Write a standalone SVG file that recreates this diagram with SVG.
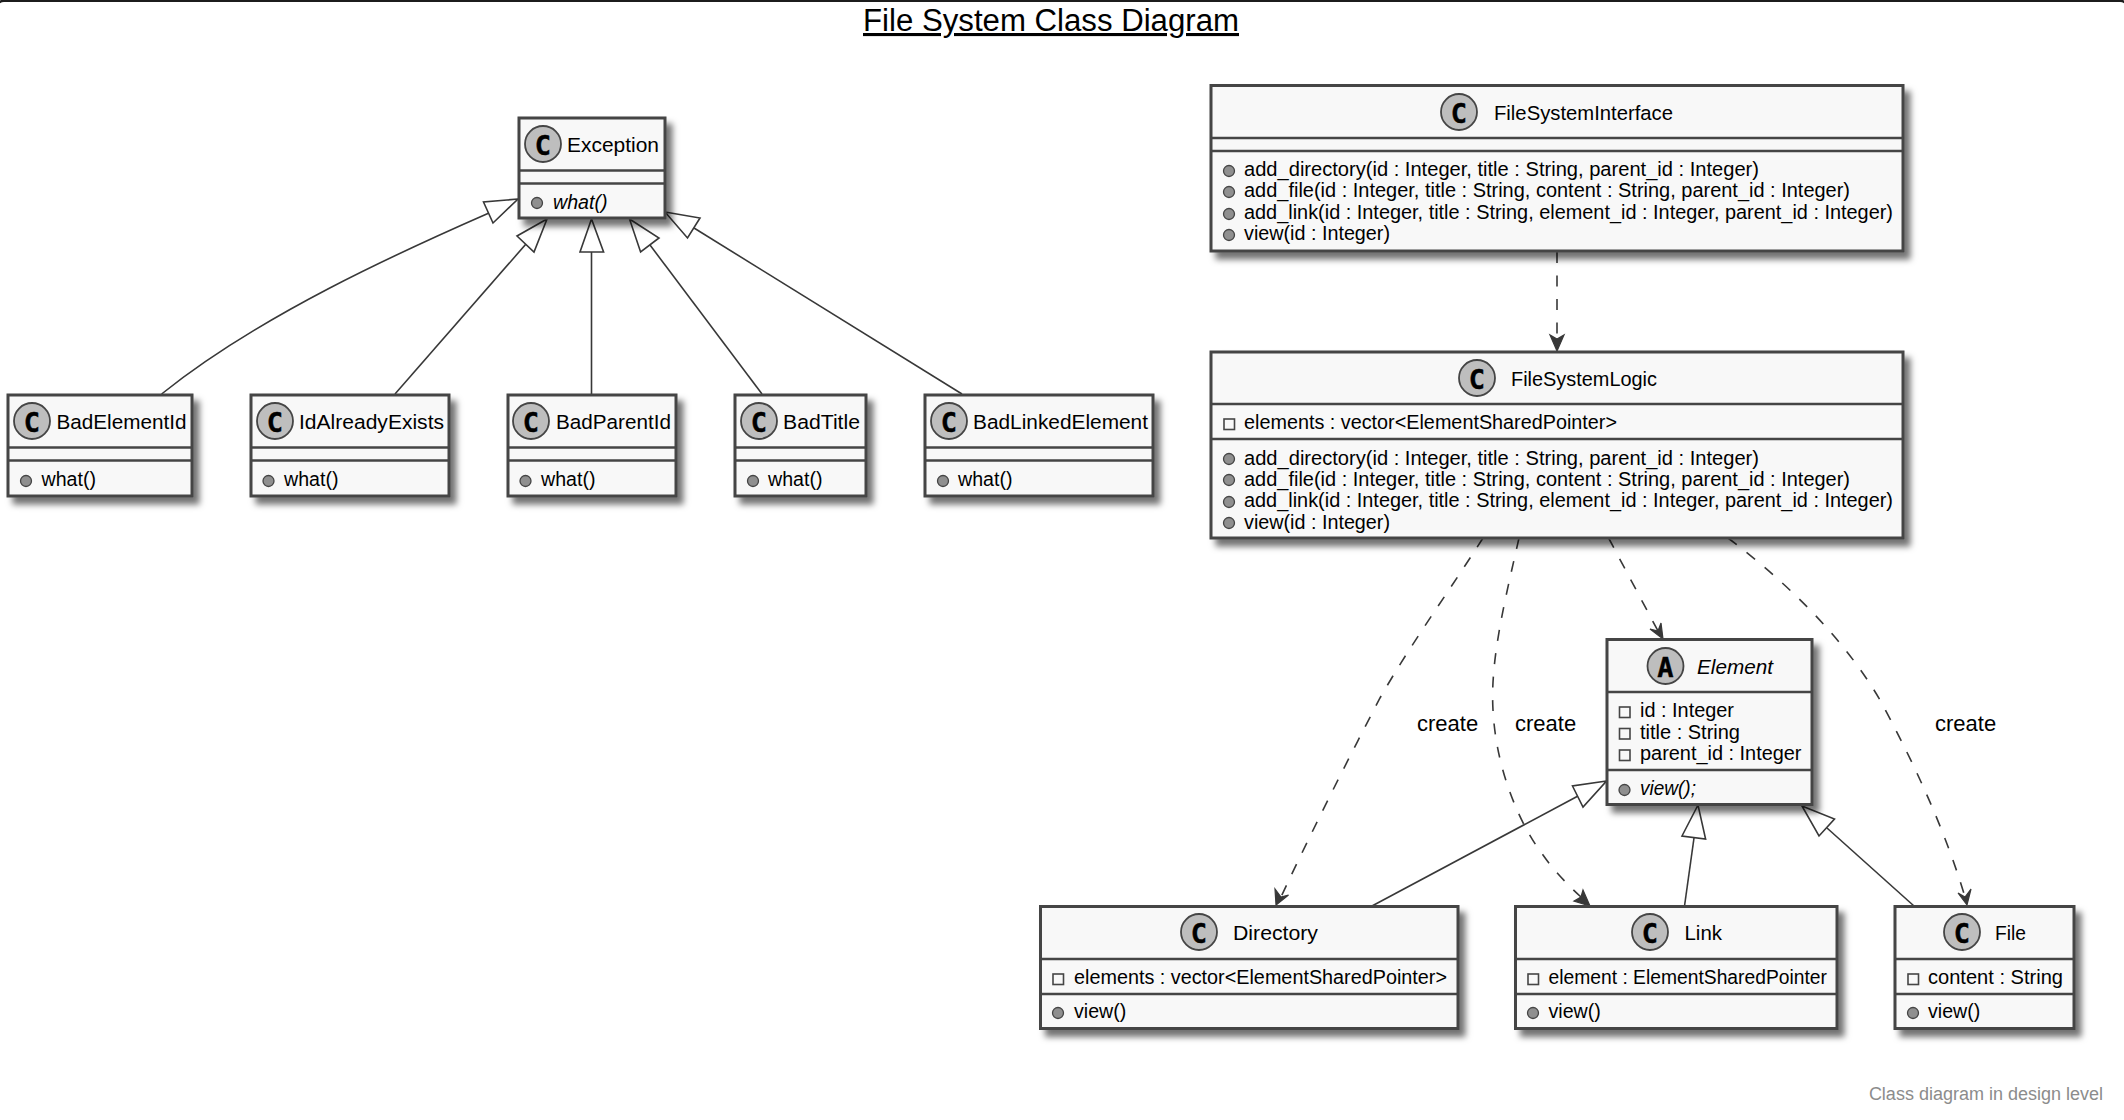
<svg xmlns="http://www.w3.org/2000/svg" width="2124" height="1120" viewBox="0 0 2124 1120">
<defs>
<style>
text{font-family:"Liberation Sans",Arial,sans-serif;fill:#000}
.box{fill:#F8F8F8;stroke:#454545;stroke-width:3;filter:url(#sh)}
.sep{stroke:#454545;stroke-width:2.5;fill:none}
.circ{fill:#BEBEBE;stroke:#454545;stroke-width:1.8}
.g{font-family:"DejaVu Sans Mono","Liberation Mono",monospace;font-weight:bold;font-size:27px;text-anchor:middle;stroke:#000;stroke-width:.4}
.n{font-size:20.5px}
.m{font-size:19.6px}
.i{font-style:italic}
.pub{fill:#8F8F8F;stroke:#454545;stroke-width:1.3}
.prv{fill:none;stroke:#454545;stroke-width:1.6}
.lbl{font-size:22px}
.inh{fill:none;stroke:#383838;stroke-width:1.6}
.dash{fill:none;stroke:#383838;stroke-width:1.6;stroke-dasharray:11 12.5}
.tri{fill:#fff;stroke:#383838;stroke-width:1.6}
.head{fill:#383838;stroke:#383838;stroke-width:1.2}
</style>
<filter id="sh" x="-10%" y="-20%" width="125%" height="150%"><feDropShadow dx="6" dy="7" stdDeviation="3.2" flood-color="#000" flood-opacity=".55"/></filter>
</defs>
<rect width="2124" height="1120" fill="#fff"/>
<rect x="-4" y="0.800" width="2132" height="1124" rx="8" fill="none" stroke="#1c1c1c" stroke-width="2.500"/>
<text x="863" y="31" font-size="31" textLength="376" lengthAdjust="spacingAndGlyphs" text-decoration="underline">File System Class Diagram</text>

<g id="connectors">
<path class="inh" d="M489 213C400 252 260 315 161.6 394"/><polygon class="tri" points="518,199 483.5,202 493,223"/>
<path class="inh" d="M526 244L395 394"/><polygon class="tri" points="547,219 517,236 534,252"/>
<path class="inh" d="M591.5 252V394"/><polygon class="tri" points="591.5,219 580,252 603.6,252"/>
<path class="inh" d="M650 245L762 394"/><polygon class="tri" points="629.5,219 659,238 640.6,252"/>
<path class="inh" d="M694 228L962 394"/><polygon class="tri" points="665,212 700,218 687.5,238"/>
<path class="inh" d="M1578 796L1372 906"/><polygon class="tri" points="1606.5,781 1572.5,786 1583,807"/>
<path class="inh" d="M1694 838L1684.5 906"/><polygon class="tri" points="1698,805 1682,836 1705.6,839"/>
<path class="inh" d="M1827 828L1914 906"/><polygon class="tri" points="1802,806 1834.5,819 1819,836"/>
<path class="dash" d="M1557 252V340"/><polygon class="head" points="1557,351 1550,335 1557,339 1564,335"/>
<path class="dash" d="M1483 538C1450 590 1410 645 1380 698C1345 765 1310 835 1281 897"/><polygon class="head" points="1276,905 1275,889 1281,897 1288.5,895"/>
<path class="dash" d="M1519 538C1505 600 1490 660 1493 710C1496 770 1520 825 1543 855C1555 872 1568 885 1581 897"/><polygon class="head" points="1590,906 1583,890 1581,897 1574,901"/>
<path class="dash" d="M1608.6 538L1658 631"/><polygon class="head" points="1663,639 1661,623 1658,631 1650,629"/>
<path class="dash" d="M1728 538C1790 585 1845 640 1880 700C1915 765 1945 830 1965 897"/><polygon class="head" points="1967,905 1958,893 1965,897 1971,889"/>
<text class="lbl" x="1417" y="731">create</text>
<text class="lbl" x="1515" y="731">create</text>
<text class="lbl" x="1935" y="731">create</text>
</g>

<g id="Exception">
<rect class="box" x="519" y="118" width="146" height="100"/>
<path class="sep" d="M519 170.500H665M519 183.500H665"/>
<circle class="circ" cx="543" cy="144" r="18"/><text class="g" x="543" y="155">C</text>
<text class="n" x="567" y="152" textLength="92" lengthAdjust="spacingAndGlyphs">Exception</text>
<circle class="pub" cx="537" cy="203" r="5.500"/><text class="m i" x="553" y="209">what()</text>
</g>

<g id="BadElementId">
<rect class="box" x="8" y="395" width="184" height="101"/>
<path class="sep" d="M8 447.500H192M8 460.500H192"/>
<circle class="circ" cx="32" cy="421" r="18"/><text class="g" x="32" y="432">C</text>
<text class="n" x="56.500" y="429" textLength="130" lengthAdjust="spacingAndGlyphs">BadElementId</text>
<circle class="pub" cx="26" cy="481" r="5.500"/><text class="m" x="41.500" y="486">what()</text>
</g>

<g id="IdAlreadyExists">
<rect class="box" x="251" y="395" width="198" height="101"/>
<path class="sep" d="M251 447.500H449M251 460.500H449"/>
<circle class="circ" cx="275" cy="421" r="18"/><text class="g" x="275" y="432">C</text>
<text class="n" x="299" y="429" textLength="145" lengthAdjust="spacingAndGlyphs">IdAlreadyExists</text>
<circle class="pub" cx="268.500" cy="481" r="5.500"/><text class="m" x="284" y="486">what()</text>
</g>

<g id="BadParentId">
<rect class="box" x="508" y="395" width="168" height="101"/>
<path class="sep" d="M508 447.500H676M508 460.500H676"/>
<circle class="circ" cx="531" cy="421" r="18"/><text class="g" x="531" y="432">C</text>
<text class="n" x="556" y="429" textLength="115" lengthAdjust="spacingAndGlyphs">BadParentId</text>
<circle class="pub" cx="525.500" cy="481" r="5.500"/><text class="m" x="541" y="486">what()</text>
</g>

<g id="BadTitle">
<rect class="box" x="735" y="395" width="131" height="101"/>
<path class="sep" d="M735 447.500H866M735 460.500H866"/>
<circle class="circ" cx="759" cy="421" r="18"/><text class="g" x="759" y="432">C</text>
<text class="n" x="783" y="429" textLength="77" lengthAdjust="spacingAndGlyphs">BadTitle</text>
<circle class="pub" cx="753" cy="481" r="5.500"/><text class="m" x="768" y="486">what()</text>
</g>

<g id="BadLinkedElement">
<rect class="box" x="925" y="395" width="228" height="101"/>
<path class="sep" d="M925 447.500H1153M925 460.500H1153"/>
<circle class="circ" cx="949" cy="421" r="18"/><text class="g" x="949" y="432">C</text>
<text class="n" x="973" y="429" textLength="175" lengthAdjust="spacingAndGlyphs">BadLinkedElement</text>
<circle class="pub" cx="943" cy="481" r="5.500"/><text class="m" x="958" y="486">what()</text>
</g>

<g id="FileSystemInterface">
<rect class="box" x="1211" y="85.500" width="692" height="165.500"/>
<path class="sep" d="M1211 138H1903M1211 151H1903"/>
<circle class="circ" cx="1459" cy="112" r="18"/><text class="g" x="1459" y="123">C</text>
<text class="n" x="1494" y="120" textLength="179" lengthAdjust="spacingAndGlyphs">FileSystemInterface</text>
<circle class="pub" cx="1229" cy="171" r="5.500"/><text class="m" x="1244" y="176" textLength="515" lengthAdjust="spacingAndGlyphs">add_directory(id : Integer, title : String, parent_id : Integer)</text>
<circle class="pub" cx="1229" cy="192" r="5.500"/><text class="m" x="1244" y="197" textLength="606" lengthAdjust="spacingAndGlyphs">add_file(id : Integer, title : String, content : String, parent_id : Integer)</text>
<circle class="pub" cx="1229" cy="214" r="5.500"/><text class="m" x="1244" y="219" textLength="649" lengthAdjust="spacingAndGlyphs">add_link(id : Integer, title : String, element_id : Integer, parent_id : Integer)</text>
<circle class="pub" cx="1229" cy="235" r="5.500"/><text class="m" x="1244" y="240" textLength="146" lengthAdjust="spacingAndGlyphs">view(id : Integer)</text>
</g>

<g id="FileSystemLogic">
<rect class="box" x="1211" y="352" width="692" height="186"/>
<path class="sep" d="M1211 404H1903M1211 439H1903"/>
<circle class="circ" cx="1477" cy="378" r="18"/><text class="g" x="1477" y="389">C</text>
<text class="n" x="1511" y="386" textLength="146" lengthAdjust="spacingAndGlyphs">FileSystemLogic</text>
<rect class="prv" x="1224" y="419" width="10.500" height="10.500"/><text class="m" x="1244" y="429" textLength="373" lengthAdjust="spacingAndGlyphs">elements : vector&lt;ElementSharedPointer&gt;</text>
<circle class="pub" cx="1229" cy="459" r="5.500"/><text class="m" x="1244" y="465" textLength="515" lengthAdjust="spacingAndGlyphs">add_directory(id : Integer, title : String, parent_id : Integer)</text>
<circle class="pub" cx="1229" cy="480" r="5.500"/><text class="m" x="1244" y="486" textLength="606" lengthAdjust="spacingAndGlyphs">add_file(id : Integer, title : String, content : String, parent_id : Integer)</text>
<circle class="pub" cx="1229" cy="502" r="5.500"/><text class="m" x="1244" y="507" textLength="649" lengthAdjust="spacingAndGlyphs">add_link(id : Integer, title : String, element_id : Integer, parent_id : Integer)</text>
<circle class="pub" cx="1229" cy="523" r="5.500"/><text class="m" x="1244" y="529" textLength="146" lengthAdjust="spacingAndGlyphs">view(id : Integer)</text>
</g>

<g id="Element">
<rect class="box" x="1607" y="639.500" width="205" height="165"/>
<path class="sep" d="M1607 692H1812M1607 770H1812"/>
<circle class="circ" cx="1665.500" cy="666" r="18"/><text class="g" x="1665.500" y="677">A</text>
<text class="n i" x="1697" y="674" textLength="76" lengthAdjust="spacingAndGlyphs">Element</text>
<rect class="prv" x="1619.500" y="707" width="10.500" height="10.500"/><text class="m" x="1640" y="717" textLength="94" lengthAdjust="spacingAndGlyphs">id : Integer</text>
<rect class="prv" x="1619.500" y="728.500" width="10.500" height="10.500"/><text class="m" x="1640" y="739" textLength="100" lengthAdjust="spacingAndGlyphs">title : String</text>
<rect class="prv" x="1619.500" y="750" width="10.500" height="10.500"/><text class="m" x="1640" y="760" textLength="161.500" lengthAdjust="spacingAndGlyphs">parent_id : Integer</text>
<circle class="pub" cx="1624.500" cy="790" r="5.500"/><text class="m i" x="1640" y="795" textLength="56" lengthAdjust="spacingAndGlyphs">view();</text>
</g>

<g id="Directory">
<rect class="box" x="1040.500" y="906.500" width="417.500" height="122"/>
<path class="sep" d="M1040.500 959H1458M1040.500 994H1458"/>
<circle class="circ" cx="1199" cy="932" r="18"/><text class="g" x="1199" y="943">C</text>
<text class="n" x="1233" y="940" textLength="85" lengthAdjust="spacingAndGlyphs">Directory</text>
<rect class="prv" x="1053" y="974" width="10.500" height="10.500"/><text class="m" x="1074" y="984" textLength="373" lengthAdjust="spacingAndGlyphs">elements : vector&lt;ElementSharedPointer&gt;</text>
<circle class="pub" cx="1058" cy="1013" r="5.500"/><text class="m" x="1074" y="1018">view()</text>
</g>

<g id="Link">
<rect class="box" x="1515.500" y="906.500" width="321.500" height="122"/>
<path class="sep" d="M1515.500 959H1837M1515.500 994H1837"/>
<circle class="circ" cx="1650" cy="932" r="18"/><text class="g" x="1650" y="943">C</text>
<text class="n" x="1684.500" y="940" textLength="37.500" lengthAdjust="spacingAndGlyphs">Link</text>
<rect class="prv" x="1528" y="974" width="10.500" height="10.500"/><text class="m" x="1548.500" y="984" textLength="278.500" lengthAdjust="spacingAndGlyphs">element : ElementSharedPointer</text>
<circle class="pub" cx="1533" cy="1013" r="5.500"/><text class="m" x="1548.500" y="1018">view()</text>
</g>

<g id="File">
<rect class="box" x="1895" y="906.500" width="179" height="122"/>
<path class="sep" d="M1895 959H2074M1895 994H2074"/>
<circle class="circ" cx="1962" cy="932" r="18"/><text class="g" x="1962" y="943">C</text>
<text class="n" x="1995" y="940" textLength="31" lengthAdjust="spacingAndGlyphs">File</text>
<rect class="prv" x="1908" y="974" width="10.500" height="10.500"/><text class="m" x="1928" y="984" textLength="135" lengthAdjust="spacingAndGlyphs">content : String</text>
<circle class="pub" cx="1913" cy="1013" r="5.500"/><text class="m" x="1928" y="1018">view()</text>
</g>

<text x="2103" y="1100" font-size="18" text-anchor="end" style="fill:#8c8c8c">Class diagram in design level</text>
</svg>
